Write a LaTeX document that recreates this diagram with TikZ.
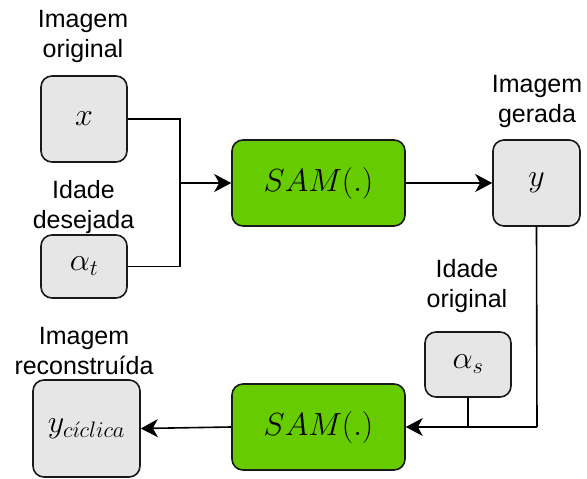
\RequirePackage{fix-cm}
\documentclass[tikz,border=0pt]{standalone}
\usepackage{fontspec}
\setmainfont{Liberation Sans}
\usetikzlibrary{arrows.meta}
\definecolor{boxgray}{HTML}{E6E6E6}
\definecolor{samgreen}{HTML}{66CC00}
\tikzset{
  block/.style={draw=black!90, line width=1.6pt, rounded corners=11pt, inner sep=0pt},
  databox/.style={block, fill=boxgray},
  netbox/.style={block, fill=samgreen},
  caption/.style={align=center, inner sep=0pt, anchor=base,
    font=\fontsize{25}{29.5}\selectfont},
  wire/.style={line width=1.6pt, draw=black},
  flow/.style={wire, -{Stealth[length=17pt, width=18pt, inset=5pt]}},
  mathtxt/.style={font=\fontsize{32}{38}\selectfont}
}
\begin{document}
\begin{tikzpicture}[x=1pt, y=-1pt]
\useasboundingbox (0,0) rectangle (587,479);

% data boxes
\node[databox, mathtxt, minimum width=86pt, minimum height=86pt] (x) at (84,119) {$x$};
\node[databox, mathtxt, minimum width=86pt, minimum height=63pt] (at) at (84,266.5) {$\alpha_t$};
\node[databox, mathtxt, minimum width=87pt, minimum height=86pt] (y) at (536.5,183) {$y$};
\node[databox, mathtxt, minimum width=86pt, minimum height=65pt] (as) at (468,364.5) {$\alpha_s$};
\node[databox, mathtxt, minimum width=107pt, minimum height=97pt] (yc) at (86.5,428.5) {$y_{c\acute{\imath}clica}$};

% generator blocks
\node[netbox, mathtxt, minimum width=173pt, minimum height=86pt] (sam1) at (318.5,183) {$SAM(.)$};
\node[netbox, mathtxt, minimum width=173pt, minimum height=86pt] (sam2) at (318.5,427) {$SAM(.)$};

% captions (anchored at the baseline of their last line)
\node[caption] (cx) at (83,57) {Imagem\\original};
\node[caption] (cat) at (83.5,228) {Idade\\desejada};
\node[caption] (cy) at (537,122) {Imagem\\gerada};
\node[caption] (cas) at (467,307) {Idade\\original};
\node[caption] (cyc) at (84,374) {Imagem\\reconstruída};

% junction points
\coordinate (j1) at (180,183);
\coordinate (j2) at (537,427);
\coordinate (j3) at (468,427);

% forward pass
\draw[wire] (x.east) -| (j1);
\draw[wire] (at.east) -| (j1);
\draw[flow] (j1) -- (sam1.west);
\draw[flow] (sam1.east) -- (y.west);

% cycle pass
\draw[wire] (y.south) -- (j2);
\draw[wire] (as.south) -- (j3);
\draw[flow] (j2) -- (sam2.east |- j2);
\draw[flow] (sam2.west) -- (yc.east);
\end{tikzpicture}
\end{document}
